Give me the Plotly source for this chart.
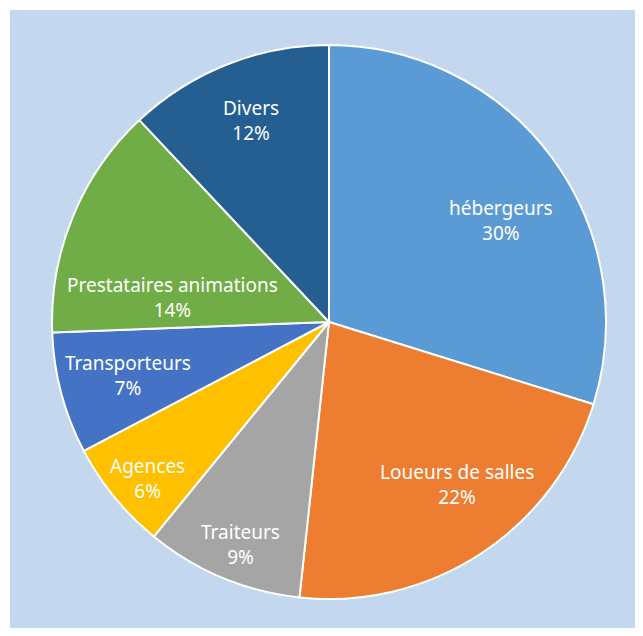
import math
import plotly.graph_objects as go

labels = ["hébergeurs", "Loueurs de salles", "Traiteurs", "Agences", "Transporteurs",
          "Prestataires animations", "Divers"]
values = [29.8, 21.9, 9.2, 6.4, 7.1, 13.6, 12.0]
colors = ["#5B9BD5", "#ED7D31", "#A5A5A5", "#FFC000", "#4472C4", "#70AD47", "#255E91"]

# label placement style (fraction of radius, position within the slice's angular span)
label_radius = [0.72, 0.745, 0.864, 0.863, 0.75, 0.573, 0.78]
label_span_pos = [0.555, 0.437, 0.474, 0.433, 0.506, 0.222, 0.512]

# page body has an 8px margin; figure is laid out in its own pixel space
W, H = 635, 628
cx, cy, r = 321, 314, 277

fig = go.Figure(go.Pie(
    labels=labels, values=values, sort=False, direction="clockwise", rotation=0,
    marker=dict(colors=colors, line=dict(color="white", width=2)),
    textinfo="none",
    hoverinfo="label+percent", showlegend=False,
    domain=dict(x=[(cx - r) / W, (cx + r) / W], y=[1 - (cy + r) / H, 1 - (cy - r) / H]),
))

total = sum(values)
cum = 0
annotations = []
for lab, v, rad, sp in zip(labels, values, label_radius, label_span_pos):
    ang = 2 * math.pi * (cum + v * sp) / total
    cum += v
    px = cx + rad * r * math.sin(ang)
    py = cy - rad * r * math.cos(ang)
    annotations.append(dict(
        x=px / W, y=1 - py / H, xref="paper", yref="paper",
        text=f"{lab}<br>{round(100 * v / total)}%", showarrow=False,
        xanchor="center", yanchor="middle",
        font=dict(family="Noto Sans", size=19, color="white"),
    ))

fig.update_layout(
    width=W, height=H, margin=dict(l=0, r=0, t=0, b=0),
    paper_bgcolor="white",
    annotations=annotations,
    shapes=[dict(type="rect", xref="paper", yref="paper", layer="below",
                 x0=2 / W, x1=1, y0=1 - 620 / H, y1=1 - 2 / H,
                 fillcolor="#C3D8EE", line=dict(width=0))],
)

fig.write_html("out.html")
